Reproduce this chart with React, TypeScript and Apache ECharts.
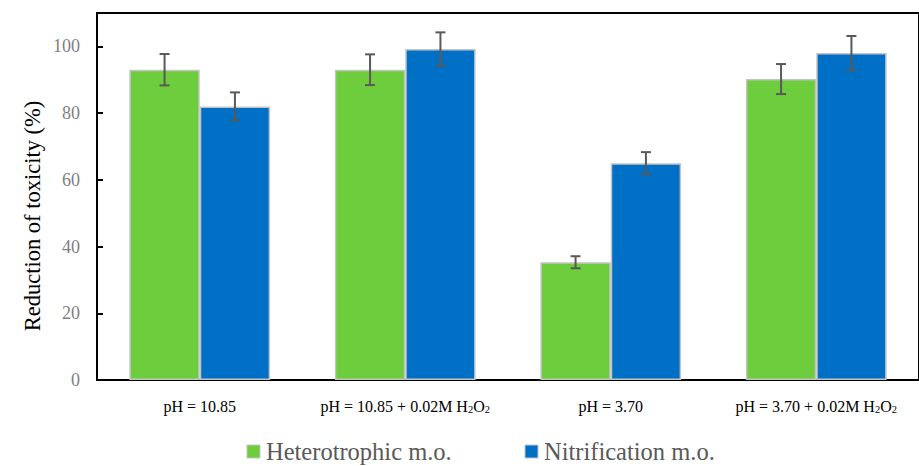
import React, { useEffect, useRef } from "react";
import * as echarts from "echarts";

const categories = [
  "pH = 10.85",
  "pH = 10.85 + 0.02M H{s|2}O{s|2}",
  "pH = 3.70",
  "pH = 3.70 + 0.02M H{s|2}O{s|2}",
];
const seriesNames = ["Heterotrophic m.o.", "Nitrification m.o."];
const heteroValues = [93, 93, 35.3, 90.2];
const heteroErrors = [4.7, 4.6, 1.8, 4.5];
const nitriValues = [82, 99.2, 65, 98];
const nitriErrors = [4.2, 5, 3.3, 5.1];
const yTicks = [0, 20, 40, 60, 80, 100];

const GREEN = "#6dcd3d";
const BLUE = "#0070c6";
const SERIF = "'Liberation Serif', 'Times New Roman', serif";
const BAR_FRACTION = 0.3425;

function errorSeries(values: number[], errors: number[], side: number) {
  return {
    type: "custom",
    z: 5,
    silent: true,
    encode: { x: 0, y: 1 },
    data: values.map((v, i) => [i, v, errors[i]]),
    renderItem: (params: any, api: any) => {
      const idx = api.value(0);
      const mean = api.value(1);
      const err = api.value(2);
      const catW = api.size([1, 0])[0];
      const c = api.coord([idx, mean]);
      const cx = c[0] + side * (BAR_FRACTION / 2) * catW;
      const hi = api.coord([idx, mean + err])[1];
      const lo = api.coord([idx, mean - err])[1];
      const cap = 5;
      const style = { stroke: "#595959", lineWidth: 2 };
      return {
        type: "group",
        children: [
          { type: "line", shape: { x1: cx, y1: hi, x2: cx, y2: lo }, style },
          { type: "line", shape: { x1: cx - cap, y1: hi, x2: cx + cap, y2: hi }, style },
          { type: "line", shape: { x1: cx - cap, y1: lo, x2: cx + cap, y2: lo }, style },
        ],
      };
    },
  };
}

function legendItem(x: number, textX: number, color: string, name: string) {
  return {
    type: "group",
    children: [
      {
        type: "rect",
        shape: { x, y: 445, width: 13, height: 13 },
        style: { fill: color, stroke: "#c4c4c4", lineWidth: 1 },
      },
      {
        type: "text",
        x: textX,
        y: 451,
        style: {
          text: name,
          font: `24.5px ${SERIF}`,
          fill: "#595959",
          align: "left",
          verticalAlign: "middle",
        },
      },
    ],
  };
}

export default function App() {
  const ref = useRef<HTMLDivElement>(null);
  useEffect(() => {
    if (!ref.current) return;
    const chart = echarts.init(ref.current, null, { renderer: "svg" });
    chart.setOption({
      animation: false,
      backgroundColor: "#ffffff",
      textStyle: { fontFamily: SERIF },
      grid: {
        left: 97,
        top: 13,
        width: 826,
        bottom: 86,
        show: true,
        borderColor: "#000",
        borderWidth: 2,
        backgroundColor: "transparent",
      },
      graphic: [
        {
          type: "text",
          x: 32,
          y: 216,
          rotation: Math.PI / 2,
          style: {
            text: "Reduction of toxicity (%)",
            fontFamily: SERIF,
            fontSize: 22.5,
            fill: "#000",
            align: "center",
            verticalAlign: "middle",
          },
        },
        legendItem(247, 266, GREEN, seriesNames[0]),
        legendItem(525, 544, BLUE, seriesNames[1]),
      ],
      xAxis: {
        type: "category",
        data: categories,
        axisLine: { show: true, lineStyle: { color: "#000", width: 2 } },
        axisTick: { show: false },
        axisLabel: {
          margin: 17,
          interval: 0,
          color: "#000",
          fontFamily: SERIF,
          fontSize: 16,
          lineHeight: 18,
          rich: {
            s: { fontFamily: SERIF, fontSize: 10.5, lineHeight: 10, verticalAlign: "bottom", color: "#000" },
          },
        },
      },
      yAxis: {
        type: "value",
        min: 0,
        max: 110,
        interval: 20,
        splitLine: { show: false },
        axisLine: { show: true, lineStyle: { color: "#000", width: 2 } },
        axisTick: { show: true, inside: true, length: 6, lineStyle: { color: "#000", width: 2 } },
        axisLabel: {
          margin: 17,
          color: "#7f7f7f",
          fontFamily: SERIF,
          fontSize: 18,
          formatter: (v: number) => (yTicks.includes(v) ? String(v) : ""),
        },
      },
      series: [
        {
          name: seriesNames[0],
          type: "bar",
          data: heteroValues,
          barCategoryGap: "31.5%",
          barGap: "0%",
          itemStyle: { color: GREEN, borderColor: "#c4c4c4", borderWidth: 1.5 },
        },
        {
          name: seriesNames[1],
          type: "bar",
          data: nitriValues,
          barCategoryGap: "31.5%",
          barGap: "0%",
          itemStyle: { color: BLUE, borderColor: "#c4c4c4", borderWidth: 1.5 },
        },
        errorSeries(heteroValues, heteroErrors, -1),
        errorSeries(nitriValues, nitriErrors, 1),
      ],
    });
    return () => chart.dispose();
  }, []);
  return (
    <div
      ref={ref}
      style={{ position: "absolute", left: 0, top: 0, width: 919, height: 466 }}
    />
  );
}
